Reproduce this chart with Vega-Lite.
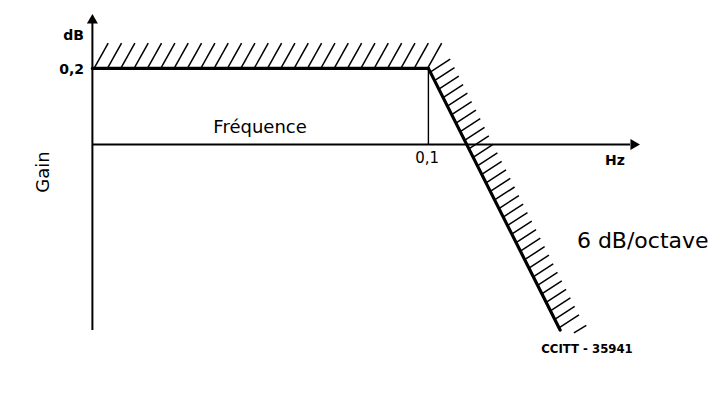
{
  "$schema": "https://vega.github.io/schema/vega-lite/v6.json",
  "width": 714,
  "height": 399,
  "padding": 0,
  "autosize": {"type": "none"},
  "background": "white",
  "config": {"view": {"stroke": null}},
  "datasets": {
    "segments": [
      {"kind": "axis", "x": 0, "y": -0.4884, "x2": 0, "y2": 0.32},
      {"kind": "axis", "x": 0, "y": 0, "x2": 0.160, "y2": 0},
      {"kind": "guide", "x": 0.1, "y": 0, "x2": 0.1, "y2": 0.2},
      {"kind": "limit", "x": 0, "y": 0.2, "x2": 0.1, "y2": 0.2},
      {"kind": "limit", "x": 0.1, "y": 0.2, "x2": 0.1392, "y2": -0.4884},
      {"kind": "hatch", "x": 0.0005, "y": 0.2, "x2": 0.0047, "y2": 0.2668},
      {"kind": "hatch", "x": 0.00447, "y": 0.2, "x2": 0.00867, "y2": 0.2668},
      {"kind": "hatch", "x": 0.00844, "y": 0.2, "x2": 0.01264, "y2": 0.2668},
      {"kind": "hatch", "x": 0.01241, "y": 0.2, "x2": 0.01661, "y2": 0.2668},
      {"kind": "hatch", "x": 0.01638, "y": 0.2, "x2": 0.02058, "y2": 0.2668},
      {"kind": "hatch", "x": 0.02035, "y": 0.2, "x2": 0.02455, "y2": 0.2668},
      {"kind": "hatch", "x": 0.02432, "y": 0.2, "x2": 0.02852, "y2": 0.2668},
      {"kind": "hatch", "x": 0.02829, "y": 0.2, "x2": 0.03249, "y2": 0.2668},
      {"kind": "hatch", "x": 0.03226, "y": 0.2, "x2": 0.03646, "y2": 0.2668},
      {"kind": "hatch", "x": 0.03623, "y": 0.2, "x2": 0.04043, "y2": 0.2668},
      {"kind": "hatch", "x": 0.0402, "y": 0.2, "x2": 0.0444, "y2": 0.2668},
      {"kind": "hatch", "x": 0.04417, "y": 0.2, "x2": 0.04837, "y2": 0.2668},
      {"kind": "hatch", "x": 0.04814, "y": 0.2, "x2": 0.05234, "y2": 0.2668},
      {"kind": "hatch", "x": 0.05211, "y": 0.2, "x2": 0.05631, "y2": 0.2668},
      {"kind": "hatch", "x": 0.05608, "y": 0.2, "x2": 0.06028, "y2": 0.2668},
      {"kind": "hatch", "x": 0.06005, "y": 0.2, "x2": 0.06425, "y2": 0.2668},
      {"kind": "hatch", "x": 0.06402, "y": 0.2, "x2": 0.06822, "y2": 0.2668},
      {"kind": "hatch", "x": 0.06799, "y": 0.2, "x2": 0.07219, "y2": 0.2668},
      {"kind": "hatch", "x": 0.07196, "y": 0.2, "x2": 0.07616, "y2": 0.2668},
      {"kind": "hatch", "x": 0.07593, "y": 0.2, "x2": 0.08013, "y2": 0.2668},
      {"kind": "hatch", "x": 0.0799, "y": 0.2, "x2": 0.0841, "y2": 0.2668},
      {"kind": "hatch", "x": 0.08387, "y": 0.2, "x2": 0.08807, "y2": 0.2668},
      {"kind": "hatch", "x": 0.08784, "y": 0.2, "x2": 0.09204, "y2": 0.2668},
      {"kind": "hatch", "x": 0.09181, "y": 0.2, "x2": 0.09601, "y2": 0.2668},
      {"kind": "hatch", "x": 0.09578, "y": 0.2, "x2": 0.09998, "y2": 0.2668},
      {"kind": "hatch", "x": 0.09975, "y": 0.2, "x2": 0.10395, "y2": 0.2668},
      {"kind": "hatch", "x": 0.10054, "y": 0.1905, "x2": 0.10649, "y2": 0.2247},
      {"kind": "hatch", "x": 0.10182, "y": 0.1681, "x2": 0.10777, "y2": 0.2023},
      {"kind": "hatch", "x": 0.10310, "y": 0.1456, "x2": 0.10905, "y2": 0.1798},
      {"kind": "hatch", "x": 0.10437, "y": 0.1232, "x2": 0.11032, "y2": 0.1574},
      {"kind": "hatch", "x": 0.10565, "y": 0.1007, "x2": 0.11160, "y2": 0.1349},
      {"kind": "hatch", "x": 0.10693, "y": 0.0783, "x2": 0.11288, "y2": 0.1125},
      {"kind": "hatch", "x": 0.10820, "y": 0.0558, "x2": 0.11415, "y2": 0.0900},
      {"kind": "hatch", "x": 0.10948, "y": 0.0334, "x2": 0.11543, "y2": 0.0676},
      {"kind": "hatch", "x": 0.11076, "y": 0.0109, "x2": 0.11671, "y2": 0.0451},
      {"kind": "hatch", "x": 0.11204, "y": -0.0116, "x2": 0.11799, "y2": 0.0226},
      {"kind": "hatch", "x": 0.11331, "y": -0.0340, "x2": 0.11926, "y2": 0.0002},
      {"kind": "hatch", "x": 0.11459, "y": -0.0565, "x2": 0.12054, "y2": -0.0223},
      {"kind": "hatch", "x": 0.11587, "y": -0.0789, "x2": 0.12182, "y2": -0.0447},
      {"kind": "hatch", "x": 0.11715, "y": -0.1014, "x2": 0.12310, "y2": -0.0672},
      {"kind": "hatch", "x": 0.11842, "y": -0.1238, "x2": 0.12437, "y2": -0.0896},
      {"kind": "hatch", "x": 0.11970, "y": -0.1463, "x2": 0.12565, "y2": -0.1121},
      {"kind": "hatch", "x": 0.12098, "y": -0.1687, "x2": 0.12693, "y2": -0.1345},
      {"kind": "hatch", "x": 0.12226, "y": -0.1912, "x2": 0.12821, "y2": -0.1570},
      {"kind": "hatch", "x": 0.12353, "y": -0.2136, "x2": 0.12948, "y2": -0.1794},
      {"kind": "hatch", "x": 0.12481, "y": -0.2361, "x2": 0.13076, "y2": -0.2019},
      {"kind": "hatch", "x": 0.12609, "y": -0.2585, "x2": 0.13204, "y2": -0.2243},
      {"kind": "hatch", "x": 0.12737, "y": -0.2810, "x2": 0.13332, "y2": -0.2468},
      {"kind": "hatch", "x": 0.12864, "y": -0.3034, "x2": 0.13459, "y2": -0.2692},
      {"kind": "hatch", "x": 0.12992, "y": -0.3259, "x2": 0.13587, "y2": -0.2917},
      {"kind": "hatch", "x": 0.13120, "y": -0.3483, "x2": 0.13715, "y2": -0.3141},
      {"kind": "hatch", "x": 0.13248, "y": -0.3708, "x2": 0.13843, "y2": -0.3366},
      {"kind": "hatch", "x": 0.13375, "y": -0.3932, "x2": 0.13970, "y2": -0.3590},
      {"kind": "hatch", "x": 0.13503, "y": -0.4157, "x2": 0.14098, "y2": -0.3815},
      {"kind": "hatch", "x": 0.13631, "y": -0.4381, "x2": 0.14226, "y2": -0.4039},
      {"kind": "hatch", "x": 0.13759, "y": -0.4606, "x2": 0.14354, "y2": -0.4264},
      {"kind": "hatch", "x": 0.13886, "y": -0.4830, "x2": 0.14481, "y2": -0.4488},
      {"kind": "hatch", "x": 0.14330, "y": -0.4960, "x2": 0.14700, "y2": -0.4760}
    ],
    "arrows": [
      {"dir": "up", "x": 0, "y": 0.3305},
      {"dir": "right", "x": 0.16155, "y": 0}
    ],
    "labels": [
      {"role": "unit", "text": "dB", "x": -0.0025, "y": 0.2747},
      {"role": "unit", "text": "0,2", "x": -0.0025, "y": 0.1853},
      {"role": "axisname", "text": "Fréquence", "x": 0.0499, "y": 0.03},
      {"role": "tick", "text": "0,1", "x": 0.0996, "y": -0.049},
      {"role": "hz", "text": "Hz", "x": 0.1555, "y": -0.0542},
      {"role": "slope", "text": "6 dB/octave", "x": 0.1442, "y": -0.2726},
      {"role": "ref", "text": "CCITT - 35941", "x": 0.1472, "y": -0.549},
      {"role": "gain", "text": "Gain", "x": -0.0144, "y": -0.0726}
    ]
  },
  "layer": [
    {
      "data": {"name": "segments"},
      "transform": [{"filter": "datum.kind === 'hatch'"}],
      "mark": {"type": "rule", "color": "black", "strokeWidth": 1.5},
      "encoding": {
        "x": {"field": "x", "type": "quantitative", "scale": {"domain": [-0.0275, 0.185], "nice": false, "zero": false}, "axis": null},
        "y": {"field": "y", "type": "quantitative", "scale": {"domain": [-0.67, 0.38], "nice": false, "zero": false}, "axis": null},
        "x2": {"field": "x2"},
        "y2": {"field": "y2"}
      }
    },
    {
      "data": {"name": "segments"},
      "transform": [{"filter": "datum.kind === 'axis'"}],
      "mark": {"type": "rule", "color": "black", "strokeWidth": 2},
      "encoding": {
        "x": {"field": "x", "type": "quantitative", "scale": {"domain": [-0.0275, 0.185], "nice": false, "zero": false}, "axis": null},
        "y": {"field": "y", "type": "quantitative", "scale": {"domain": [-0.67, 0.38], "nice": false, "zero": false}, "axis": null},
        "x2": {"field": "x2"},
        "y2": {"field": "y2"}
      }
    },
    {
      "data": {"name": "segments"},
      "transform": [{"filter": "datum.kind === 'guide'"}],
      "mark": {"type": "rule", "color": "black", "strokeWidth": 1.4},
      "encoding": {
        "x": {"field": "x", "type": "quantitative", "scale": {"domain": [-0.0275, 0.185], "nice": false, "zero": false}, "axis": null},
        "y": {"field": "y", "type": "quantitative", "scale": {"domain": [-0.67, 0.38], "nice": false, "zero": false}, "axis": null},
        "x2": {"field": "x2"},
        "y2": {"field": "y2"}
      }
    },
    {
      "data": {"name": "segments"},
      "transform": [{"filter": "datum.kind === 'limit'"}],
      "mark": {"type": "rule", "color": "black", "strokeWidth": 3.2, "strokeCap": "round"},
      "encoding": {
        "x": {"field": "x", "type": "quantitative", "scale": {"domain": [-0.0275, 0.185], "nice": false, "zero": false}, "axis": null},
        "y": {"field": "y", "type": "quantitative", "scale": {"domain": [-0.67, 0.38], "nice": false, "zero": false}, "axis": null},
        "x2": {"field": "x2"},
        "y2": {"field": "y2"}
      }
    },
    {
      "data": {"name": "arrows"},
      "transform": [{"filter": "datum.dir === 'up'"}],
      "mark": {"type": "point", "shape": "triangle-up", "filled": true, "color": "black", "size": 121, "opacity": 1},
      "encoding": {
        "x": {"field": "x", "type": "quantitative", "scale": {"domain": [-0.0275, 0.185], "nice": false, "zero": false}, "axis": null},
        "y": {"field": "y", "type": "quantitative", "scale": {"domain": [-0.67, 0.38], "nice": false, "zero": false}, "axis": null}
      }
    },
    {
      "data": {"name": "arrows"},
      "transform": [{"filter": "datum.dir === 'right'"}],
      "mark": {"type": "point", "shape": "triangle-right", "filled": true, "color": "black", "size": 121, "opacity": 1},
      "encoding": {
        "x": {"field": "x", "type": "quantitative", "scale": {"domain": [-0.0275, 0.185], "nice": false, "zero": false}, "axis": null},
        "y": {"field": "y", "type": "quantitative", "scale": {"domain": [-0.67, 0.38], "nice": false, "zero": false}, "axis": null}
      }
    },
    {
      "data": {"name": "labels"},
      "transform": [{"filter": "datum.role === 'unit'"}],
      "mark": {"type": "text", "align": "right", "baseline": "alphabetic", "font": "DejaVu Sans", "fontWeight": "bold", "fontSize": 14, "color": "black"},
      "encoding": {
        "x": {"field": "x", "type": "quantitative", "scale": {"domain": [-0.0275, 0.185], "nice": false, "zero": false}, "axis": null},
        "y": {"field": "y", "type": "quantitative", "scale": {"domain": [-0.67, 0.38], "nice": false, "zero": false}, "axis": null},
        "text": {"field": "text"}
      }
    },
    {
      "data": {"name": "labels"},
      "transform": [{"filter": "datum.role === 'axisname'"}],
      "mark": {"type": "text", "align": "center", "baseline": "alphabetic", "font": "DejaVu Sans", "fontSize": 18, "color": "black"},
      "encoding": {
        "x": {"field": "x", "type": "quantitative", "scale": {"domain": [-0.0275, 0.185], "nice": false, "zero": false}, "axis": null},
        "y": {"field": "y", "type": "quantitative", "scale": {"domain": [-0.67, 0.38], "nice": false, "zero": false}, "axis": null},
        "text": {"field": "text"}
      }
    },
    {
      "data": {"name": "labels"},
      "transform": [{"filter": "datum.role === 'tick'"}],
      "mark": {"type": "text", "align": "center", "baseline": "alphabetic", "font": "DejaVu Sans", "fontSize": 15, "color": "black"},
      "encoding": {
        "x": {"field": "x", "type": "quantitative", "scale": {"domain": [-0.0275, 0.185], "nice": false, "zero": false}, "axis": null},
        "y": {"field": "y", "type": "quantitative", "scale": {"domain": [-0.67, 0.38], "nice": false, "zero": false}, "axis": null},
        "text": {"field": "text"}
      }
    },
    {
      "data": {"name": "labels"},
      "transform": [{"filter": "datum.role === 'hz'"}],
      "mark": {"type": "text", "align": "center", "baseline": "alphabetic", "font": "DejaVu Sans", "fontWeight": "bold", "fontSize": 14, "color": "black"},
      "encoding": {
        "x": {"field": "x", "type": "quantitative", "scale": {"domain": [-0.0275, 0.185], "nice": false, "zero": false}, "axis": null},
        "y": {"field": "y", "type": "quantitative", "scale": {"domain": [-0.67, 0.38], "nice": false, "zero": false}, "axis": null},
        "text": {"field": "text"}
      }
    },
    {
      "data": {"name": "labels"},
      "transform": [{"filter": "datum.role === 'slope'"}],
      "mark": {"type": "text", "align": "left", "baseline": "alphabetic", "font": "DejaVu Sans", "fontSize": 22, "color": "black"},
      "encoding": {
        "x": {"field": "x", "type": "quantitative", "scale": {"domain": [-0.0275, 0.185], "nice": false, "zero": false}, "axis": null},
        "y": {"field": "y", "type": "quantitative", "scale": {"domain": [-0.67, 0.38], "nice": false, "zero": false}, "axis": null},
        "text": {"field": "text"}
      }
    },
    {
      "data": {"name": "labels"},
      "transform": [{"filter": "datum.role === 'ref'"}],
      "mark": {"type": "text", "align": "center", "baseline": "alphabetic", "font": "DejaVu Sans Condensed, DejaVu Sans", "fontWeight": "bold", "fontSize": 13, "color": "black"},
      "encoding": {
        "x": {"field": "x", "type": "quantitative", "scale": {"domain": [-0.0275, 0.185], "nice": false, "zero": false}, "axis": null},
        "y": {"field": "y", "type": "quantitative", "scale": {"domain": [-0.67, 0.38], "nice": false, "zero": false}, "axis": null},
        "text": {"field": "text"}
      }
    },
    {
      "data": {"name": "labels"},
      "transform": [{"filter": "datum.role === 'gain'"}],
      "mark": {"type": "text", "align": "center", "baseline": "middle", "angle": 270, "font": "DejaVu Sans", "fontSize": 18, "color": "black"},
      "encoding": {
        "x": {"field": "x", "type": "quantitative", "scale": {"domain": [-0.0275, 0.185], "nice": false, "zero": false}, "axis": null},
        "y": {"field": "y", "type": "quantitative", "scale": {"domain": [-0.67, 0.38], "nice": false, "zero": false}, "axis": null},
        "text": {"field": "text"}
      }
    }
  ]
}
